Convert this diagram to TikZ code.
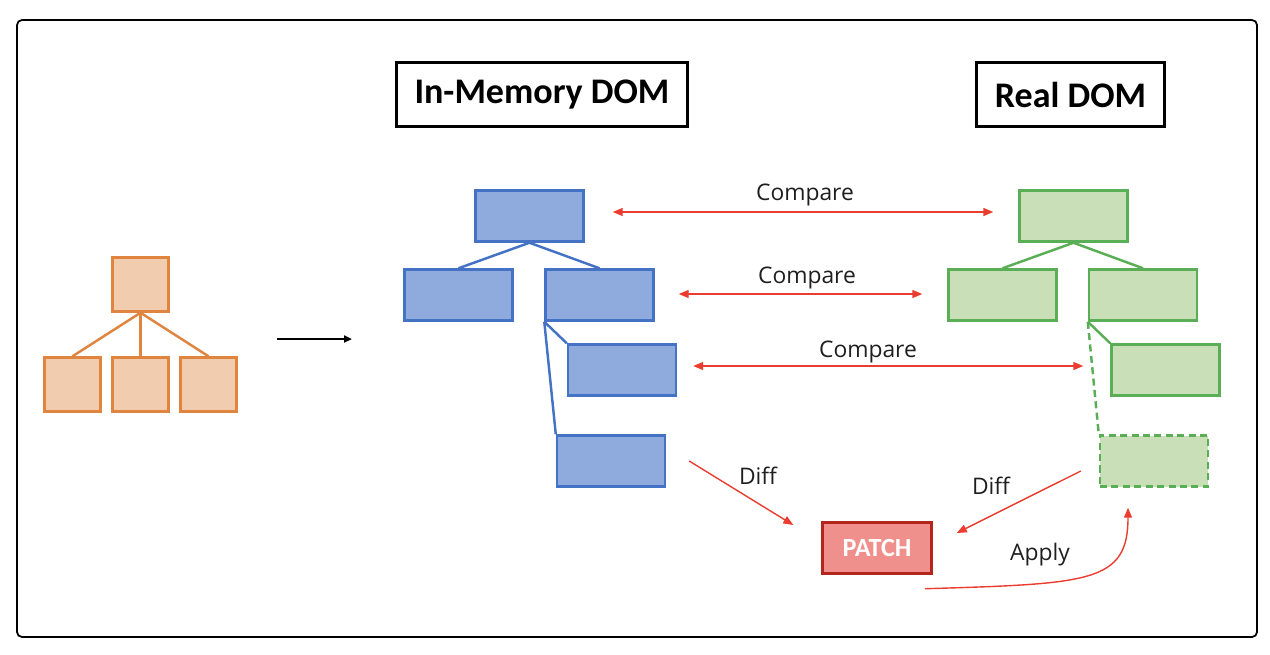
\documentclass[tikz,border=0pt]{standalone}
\usepackage{fontspec}
\setmainfont{Open Sans}
\newfontfamily\calibri{Carlito}
\usetikzlibrary{arrows.meta}

\definecolor{orangeline}{HTML}{E0853F}
\definecolor{orangefill}{HTML}{F2CCAF}
\definecolor{blueline}{HTML}{4472C4}
\definecolor{bluefill}{HTML}{8FAADC}
\definecolor{greenline}{HTML}{5AAE56}
\definecolor{greenfill}{HTML}{C9DFB8}
\definecolor{arrowred}{HTML}{EA3D2F}
\definecolor{patchfill}{HTML}{F0908C}
\definecolor{patchline}{HTML}{B3261E}
\definecolor{labeltext}{HTML}{1F1F1F}

\begin{document}
\begin{tikzpicture}[x=0.02cm, y=-0.02cm,
    orangebox/.style={draw=orangeline, fill=orangefill, line width=1.4pt,
        minimum width=1.12cm, minimum height=1.08cm, inner sep=0pt},
    bluebox/.style={draw=blueline, fill=bluefill, line width=1.4pt,
        minimum width=2.16cm, minimum height=1.02cm, inner sep=0pt},
    greenbox/.style={draw=greenline, fill=greenfill, line width=1.4pt,
        minimum width=2.16cm, minimum height=1.02cm, inner sep=0pt},
    titlebox/.style={draw=black, line width=1.6pt, minimum height=1.28cm,
        font=\calibri\bfseries\fontsize{20.5}{24}\selectfont},
    lbl/.style={text=labeltext, font=\fontsize{13}{15}\selectfont, inner sep=0pt},
    treeedge/.style={line width=1.4pt},
    redarrow/.style={draw=arrowred, line width=0.8pt,
        -{Triangle[length=0.2cm, width=0.16cm]}},
    cmparrow/.style={redarrow, {Triangle[length=0.2cm, width=0.16cm]}-{Triangle[length=0.2cm, width=0.16cm]}}
]

    % page and frame
    \useasboundingbox (0,0) rectangle (1270,654);
    \draw[line width=1pt, rounded corners=0.1cm] (17,20) rectangle (1257,637);

    % titles
    \node[titlebox, minimum width=5.82cm] (memtitle) at (542,94.5) {In-Memory DOM};
    \node[titlebox, minimum width=3.76cm] (realtitle) at (1070.5,94.5) {Real DOM};

    % source tree
    \node[orangebox] (o1) at (140.5,284.5) {};
    \node[orangebox] (o2) at (72.5,384.5) {};
    \node[orangebox] (o3) at (140.5,384.5) {};
    \node[orangebox] (o4) at (208.5,384.5) {};
    \draw[treeedge, orangeline] (o1.south) -- (o2.north);
    \draw[treeedge, orangeline] (o1.south) -- (o3.north);
    \draw[treeedge, orangeline] (o1.south) -- (o4.north);

    % render arrow
    \coordinate (rs) at (277,339);
    \coordinate (re) at (352,339);
    \draw[line width=1.2pt, -{Triangle[length=0.16cm, width=0.14cm]}] (rs) -- (re);

    % in-memory tree
    \node[bluebox] (b1) at (529.5,216) {};
    \node[bluebox] (b2) at (458.5,295) {};
    \node[bluebox] (b3) at (599.5,295) {};
    \node[bluebox] (b4) at (622,370) {};
    \node[bluebox] (b5) at (611,461) {};
    \draw[treeedge, blueline] (b1.south) -- (b2.north);
    \draw[treeedge, blueline] (b1.south) -- (b3.north);
    \draw[treeedge, blueline] (b3.south west) -- (b4.north west);
    \draw[treeedge, blueline] (b3.south west) -- (b5.north west);

    % real tree
    \node[greenbox] (g1) at (1073.5,216) {};
    \node[greenbox] (g2) at (1002.5,295) {};
    \node[greenbox] (g3) at (1143,295) {};
    \node[greenbox] (g4) at (1165.5,370) {};
    \node[greenbox, dashed, dash pattern=on 4pt off 2.5pt] (g5) at (1154,461) {};
    \draw[treeedge, greenline] (g1.south) -- (g2.north);
    \draw[treeedge, greenline] (g1.south) -- (g3.north);
    \draw[treeedge, greenline] (g3.south west) -- (g4.north west);
    \draw[treeedge, greenline, dash pattern=on 4pt off 2.5pt] (g3.south west) -- (g5.north west);

    % compare arrows
    \draw[cmparrow, shorten <=0.56cm, shorten >=0.5cm]
        ([yshift=0.08cm]b1.east) -- ([yshift=0.08cm]g1.west);
    \draw[cmparrow, shorten <=0.48cm, shorten >=0.5cm]
        ([yshift=0.02cm]b3.east) -- ([yshift=0.02cm]g2.west);
    \draw[cmparrow, shorten <=0.32cm, shorten >=0.54cm]
        ([yshift=0.08cm]b4.east) -- ([yshift=0.08cm]g4.west);
    \node[lbl] (cmp1) at (805,195) {Compare};
    \node[lbl] (cmp2) at (807,278) {Compare};
    \node[lbl] (cmp3) at (868,352) {Compare};

    % patch
    \node[draw=patchline, fill=patchfill, line width=1.4pt, minimum width=2.18cm,
        minimum height=1.02cm, inner sep=0pt, text=white,
        font=\calibri\bfseries\fontsize{14.9}{17}\selectfont] (patch) at (877,548) {PATCH};

    % diff and apply arrows
    \draw[redarrow] ([xshift=0.46cm]b5.east) -- ([xshift=-0.56cm, yshift=0.46cm]patch.west);
    \draw[redarrow] ([xshift=-0.36cm, yshift=-0.2cm]g5.west) -- ([xshift=0.48cm, yshift=0.3cm]patch.east);
    \draw[redarrow] ([xshift=0.96cm, yshift=-0.28cm]patch.south)
        .. controls +(3.3cm,0.1cm) and +(0cm,-1.5cm) .. ([xshift=-0.52cm, yshift=-0.4cm]g5.south);
    \node[lbl] (diff1) at (758,476) {Diff};
    \node[lbl] (diff2) at (991,486) {Diff};
    \node[lbl] (apply) at (1040,555) {Apply};

\end{tikzpicture}
\end{document}
